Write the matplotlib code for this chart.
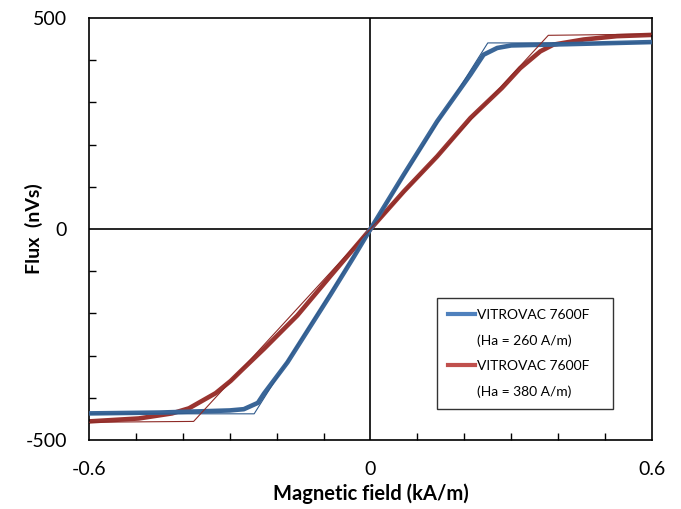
import matplotlib
matplotlib.use("Agg")
import matplotlib.pyplot as plt
from matplotlib.lines import Line2D

plt.rcParams['font.family'] = ['Lato', 'DejaVu Sans']

# measured loops (kA/m, nVs)
blue_x = [-0.6, -0.45, -0.3, -0.27, -0.24, -0.227, -0.177, -0.085, -0.035, 0.0,
          0.071, 0.142, 0.213, 0.241, 0.27, 0.3, 0.42, 0.6]
blue_y = [-437, -435, -430, -427, -412, -390, -316, -155, -65, 0,
          129, 255, 366, 413, 429, 435, 438, 443]
red_x = [-0.6, -0.494, -0.423, -0.387, -0.33, -0.298, -0.274, -0.227, -0.156, -0.085, 0.0,
         0.071, 0.142, 0.213, 0.28, 0.319, 0.362, 0.39, 0.454, 0.525, 0.6]
red_y = [-456, -449, -437, -425, -389, -360, -334, -284, -205, -111, 0,
         89, 172, 263, 334, 381, 421, 437, 449, 457, 460]

# idealised fits
blue_fit_x = [-0.6, -0.248, 0.25, 0.6]
blue_fit_y = [-438, -438, 441, 441]
red_fit_x = [-0.6, -0.377, 0.379, 0.6]
red_fit_y = [-458, -456, 459, 462]

series_names = ["VITROVAC 7600F", "VITROVAC 7600F"]
series_fields = ["(Ha = 260 A/m)", "(Ha = 380 A/m)"]
x_ticks = [-0.6, 0, 0.6]
y_ticks = [-500, 0, 500]

fig = plt.figure(figsize=(6.81, 5.09), dpi=100)
ax = fig.add_axes([0.1307, 0.1356, 0.8267, 0.8290])

ax.axhline(0, color='black', lw=1.2, zorder=1)
ax.axvline(0, color='black', lw=1.2, zorder=1)

ax.plot(blue_x, blue_y, color='#3A6698', lw=3.3, solid_capstyle='butt', zorder=3)
ax.plot(red_x, red_y, color='#9A3430', lw=3.3, solid_capstyle='butt', zorder=2)
ax.plot(blue_fit_x, blue_fit_y, color='#2F5A8C', lw=0.8, zorder=4)
ax.plot(red_fit_x, red_fit_y, color='#8E2A26', lw=0.8, zorder=4)

ax.set_xlim(-0.6, 0.6)
ax.set_ylim(-500, 500)
ax.set_xticks(x_ticks)
ax.set_xticklabels(['-0.6', '0', '0.6'])
ax.set_yticks(y_ticks)
ax.set_yticklabels(['-500', '0', '500'])
ax.set_xticks([i / 10 for i in range(-5, 6)], minor=True)
ax.set_yticks(list(range(-400, 500, 100)), minor=True)
ax.tick_params(which='major', length=0, labelsize=14)
ax.tick_params(axis='x', which='major', pad=15)
ax.tick_params(axis='y', which='major', pad=16)
ax.tick_params(which='minor', direction='in', length=5, width=1.0)
ax.tick_params(axis='x', which='minor', top=False)
ax.tick_params(axis='y', which='minor', right=False)
for s in ax.spines.values():
    s.set_linewidth(1.2)

ax.set_xlabel('Magnetic field (kA/m)', fontsize=14.5, fontweight='bold', labelpad=4)
ax.set_ylabel('Flux  (nVs)', fontsize=14, fontweight='bold', labelpad=-13)

blank = Line2D([], [], color='none', lw=0)
handles = [Line2D([], [], color='#4F81BD', lw=3.0), blank,
           Line2D([], [], color='#C0504D', lw=3.0), blank]
labels = [series_names[0], series_fields[0], series_names[1], series_fields[1]]
leg = ax.legend(handles, labels, loc='upper left', bbox_to_anchor=(0.618, 0.0, 0.313, 0.336),
                mode='expand', fontsize=10, frameon=True, fancybox=False,
                edgecolor='black', handlelength=1.95, handletextpad=0.1,
                labelspacing=0.95, borderpad=0.8, borderaxespad=0.0)
leg.get_frame().set_linewidth(1.0)

fig.savefig('out.png', dpi=100)
